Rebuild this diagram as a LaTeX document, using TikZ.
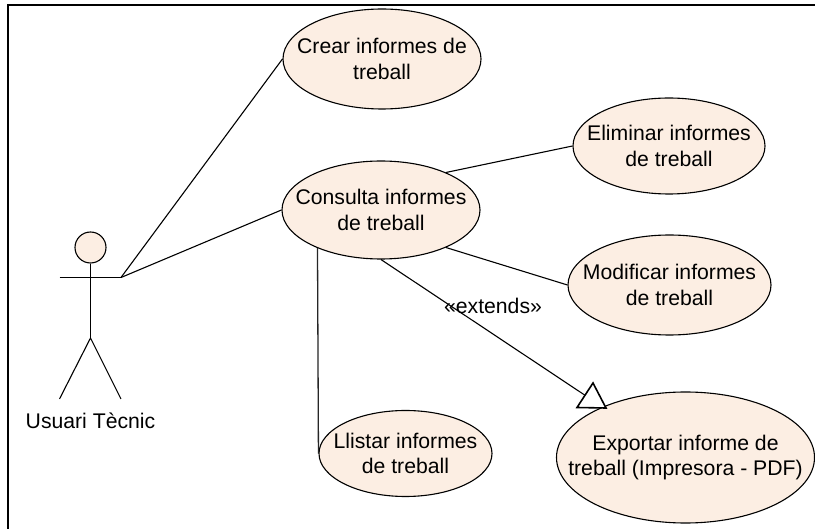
\documentclass[tikz,border=0pt]{standalone}
\usepackage{fontspec}
\setmainfont{Liberation Sans}
\usetikzlibrary{shapes.geometric,calc}
\definecolor{ucfill}{HTML}{FCEEE3}
\tikzset{
  usecase/.style n args={3}{ellipse,draw=black,fill=ucfill,line width=1.1pt,inner sep=0pt,
    minimum width=#1,minimum height=#2,
    label={[align=center,text=black,inner sep=0pt,font=\ucfont]center:#3}},
  conn/.style={draw=black,line width=1.1pt},
  limb/.style={draw=black,line width=1.1pt},
  frameline/.style={draw=black,line width=2pt},
  txt/.style={font=\ucfont,inner sep=0pt,text=black},
}
\newcommand{\ucfont}{\fontsize{21.2}{25.5}\selectfont}
\begin{document}
\begin{tikzpicture}[x=1pt,y=-1pt]
\useasboundingbox (0,0) rectangle (815,529);
\fill[white] (0,0) rectangle (815,529);
\draw[frameline] (8,529) -- (8,5) -- (815,5);

% use cases
\node[usecase={198pt}{100pt}{Crear informes de\\treball}] (crear) at (382,59) {};
\node[usecase={198pt}{98pt}{Consulta informes\\de treball}] (cons) at (381,210) {};
\node[usecase={192pt}{96pt}{Eliminar informes\\de treball}] (elim) at (669,146) {};
\node[usecase={203pt}{100pt}{Modificar informes\\de treball}] (modif) at (669.5,285) {};
\node[usecase={173pt}{86pt}{Llistar informes\\de treball}] (llist) at (405.5,453.5) {};
\node[usecase={258pt}{131pt}{Exportar informe de\\treball (Impresora - PDF)}] (expo) at (685.5,457.5) {};

% actor
\node[circle,draw=black,fill=ucfill,line width=1.1pt,minimum size=31pt,inner sep=0pt] (head) at (90.5,247.5) {};
\coordinate (handL) at (59.5,277.5);
\coordinate (handR) at (121,277.5);
\coordinate (hip) at (90.5,338);
\coordinate (footL) at (59.5,399);
\coordinate (footR) at (121,399);
\draw[limb] (head.south) -- (hip);
\draw[limb] (handL) -- (handR);
\draw[limb] (footL) -- (hip) -- (footR);
\node[txt] (actorlabel) at (90.5,421) {Usuari Tècnic};

% connectors
\draw[conn] (handR) -- (crear.west);
\draw[conn] (handR) -- (cons.west);
\draw[conn] (cons.30.7) -- (elim.west);
\draw[conn] (cons.-30.7) -- (modif.west);
\draw[draw=black!85,line width=1.3pt] (cons.211.6) -- (llist.west);

% extends
\coordinate (tipA) at (593,383);
\coordinate (tipB) at (577,407.5);
\coordinate (tipC) at (606,408);
\coordinate (tipEdge) at ($(tipA)!0.5!(tipB)$);
\draw[conn] (cons.south) -- (tipEdge);
\draw[draw=black,fill=white,line width=1.6pt,line join=miter] (tipA) -- (tipB) -- (tipC) -- cycle;
\node[txt] (extlabel) at (493,306) {«extends»};
\end{tikzpicture}
\end{document}
